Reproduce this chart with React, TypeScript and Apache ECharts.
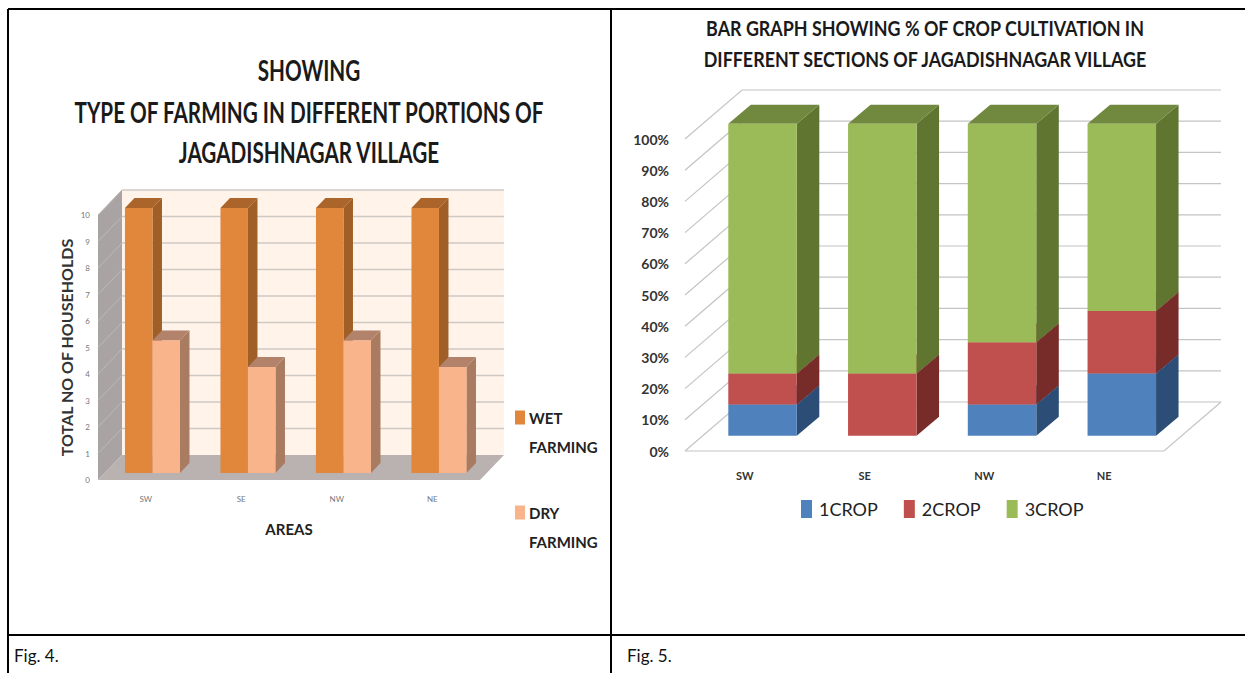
import React, { useEffect, useRef } from "react";
import * as echarts from "echarts";

const areas = ["SW", "SE", "NW", "NE"];
const wetFarming = [10, 10, 10, 10];
const dryFarming = [5, 4, 5, 4];
const householdTicks = [0, 1, 2, 3, 4, 5, 6, 7, 8, 9, 10];

const crop1 = [10, 0, 10, 20];
const crop2 = [10, 20, 20, 20];
const crop3 = [80, 80, 70, 60];
const percentTicks = [0, 10, 20, 30, 40, 50, 60, 70, 80, 90, 100];

const leftTitleLines = ["SHOWING", "TYPE OF FARMING IN DIFFERENT PORTIONS OF", "JAGADISHNAGAR VILLAGE"];
const rightTitleLines = ["BAR GRAPH SHOWING % OF CROP CULTIVATION IN", "DIFFERENT SECTIONS OF JAGADISHNAGAR VILLAGE"];

const FONT = "Lato";
const pts = (...p: number[][]) => ({ type: "polygon", shape: { points: p } });

function prism(x0: number, x1: number, yBase: number, yTop: number, dx: number, dy: number, front: string, side: string, top: string) {
  return [
    { ...pts([x1, yBase], [x1 + dx, yBase - dy], [x1 + dx, yTop - dy], [x1, yTop]), style: { fill: side } },
    { ...pts([x0, yTop], [x1, yTop], [x1 + dx, yTop - dy], [x0 + dx, yTop - dy]), style: { fill: top } },
    { type: "rect", shape: { x: x0, y: yTop, width: x1 - x0, height: yBase - yTop }, style: { fill: front } },
  ];
}

const LEFT_DEPTH = { dx: 24, dy: 25, t: 0.28, bdx: 9.5, bdy: 10 };
const RIGHT_DEPTH = { dx: 57, dy: 49, t: 0.31, bdx: 22.5, bdy: 19 };

function leftWalls(params: any, api: any) {
  const v = api.value(1);
  const { x, width } = params.coordSys;
  const y = api.coord([0, v])[1];
  const { dx, dy } = LEFT_DEPTH;
  const children: any[] = [];
  if (v === 0) {
    const yTop = api.coord([0, 10])[1];
    children.push({ type: "rect", shape: { x: x + dx, y: yTop - dy, width, height: y - yTop }, style: { fill: "#FFF3EA" } });
    children.push({ ...pts([x, y], [x + dx, y - dy], [x + dx, yTop - dy], [x, yTop]), style: { fill: "#A9A4A3" } });
    children.push({ ...pts([x, y], [x + width - 0, y], [x + width + dx, y - dy], [x + dx, y - dy]), style: { fill: "#B9B2B0" } });
  } else {
    children.push({ type: "line", shape: { x1: x + dx, y1: y - dy, x2: x + dx + width, y2: y - dy }, style: { stroke: "#CFC9C3", lineWidth: 1.6 } });
    children.push({ type: "line", shape: { x1: x, y1: y, x2: x + dx, y2: y - dy }, style: { stroke: "#BDB9B8", lineWidth: 1 } });
  }
  return { type: "group", children };
}

function leftBar(side: number, front: string, sideC: string, top: string) {
  return (_: any, api: any) => {
    const [cx, yTop] = api.coord([api.value(0), api.value(1)]);
    const yBase = api.coord([api.value(0), 0])[1];
    const w = api.size([1, 0])[0] * 0.288;
    const { dx, dy, t, bdx, bdy } = LEFT_DEPTH;
    const ox = cx + dx * t;
    const oy = dy * t;
    const x0 = side < 0 ? ox - w : ox;
    return { type: "group", children: prism(x0, x0 + w, yBase - oy, yTop - oy, bdx, bdy, front, sideC, top) };
  };
}

function rightWalls(params: any, api: any) {
  const v = api.value(1);
  const { x, width } = params.coordSys;
  const y = api.coord([0, v])[1];
  const { dx, dy } = RIGHT_DEPTH;
  const line = { stroke: "#C4C4C4", lineWidth: 1.2 };
  const children: any[] = [
    { type: "polyline", shape: { points: [[x, y], [x + dx, y - dy], [x + dx + width, y - dy]] }, style: { ...line, fill: null } },
  ];
  if (v === 0) {
    children.push({ type: "polyline", shape: { points: [[x, y], [x + width, y], [x + width + dx, y - dy]] }, style: { ...line, fill: null } });
  }
  return { type: "group", children };
}

function stackBar(front: string, sideC: string, top: string) {
  return (_: any, api: any) => {
    const cat = api.value(0);
    const lo = api.value(1);
    const hi = api.value(2);
    if (hi <= lo) return { type: "group", children: [] };
    const cx = api.coord([cat, 0])[0];
    const yLo = api.coord([cat, lo])[1];
    const yHi = api.coord([cat, hi])[1];
    const w = api.size([1, 0])[0] * 0.572;
    const { dx, dy, t, bdx, bdy } = RIGHT_DEPTH;
    const x0 = cx + dx * t - w / 2;
    const oy = dy * t;
    return { type: "group", children: prism(x0, x0 + w, yLo - oy, yHi - oy, bdx, bdy, front, sideC, top) };
  };
}

const stacked = (base: number[][], vals: number[]) =>
  vals.map((v, i) => {
    const lo = base.reduce((s, b) => s + b[i], 0);
    return [i, lo, lo + v];
  });

const tallSwatch = "path://M0 0H.1V.1H0Z M0 7.5H10V21.5H0Z M0 57.9H.1V58H0Z";

function legendFor(name: string, top: number) {
  return {
    data: [name],
    left: 515,
    top,
    orient: "vertical",
    selectedMode: false,
    icon: tallSwatch,
    itemWidth: 10,
    itemHeight: 58,
    itemGap: 0,
    padding: 0,
    formatter: (n: string) => n.replace(" ", "\n"),
    textStyle: { fontFamily: FONT, fontSize: 15, fontWeight: 700, lineHeight: 29, color: "#222", padding: [0, 0, 0, -1] },
  };
}

const titleText = (text: string, x: number, y: number, size: number, weight: number, scaleY: number) => ({
  type: "text",
  x,
  y,
  scaleY,
  style: { text, font: `${weight} ${size}px ${FONT}`, fill: "#1a1a1a", align: "center", verticalAlign: "middle" },
});

export default function App() {
  const ref = useRef<HTMLDivElement>(null);
  useEffect(() => {
    const chart = echarts.init(ref.current!, null, { renderer: "svg" });
    const borderLine = (x1: number, y1: number, x2: number, y2: number) => ({
      type: "line",
      shape: { x1, y1, x2, y2 },
      style: { stroke: "#000", lineWidth: 2 },
    });
    const walls = (data: number[], renderItem: any, idx: number) => ({
      type: "custom",
      coordinateSystem: "cartesian2d",
      xAxisIndex: idx,
      yAxisIndex: idx,
      silent: true,
      renderItem,
      encode: { x: 0, y: 1 },
      data: data.map((v) => [0, v]),
    });
    const bars3d = (name: string, color: string, renderItem: any, data: number[][], idx: number, y: number[]) => ({
      name,
      type: "custom",
      coordinateSystem: "cartesian2d",
      xAxisIndex: idx,
      yAxisIndex: idx,
      itemStyle: { color },
      renderItem,
      encode: { x: 0, y },
      data,
    });
    chart.setOption({
      animation: false,
      grid: [
        { left: 98, top: 215, width: 382, height: 265 },
        { left: 685, top: 139, width: 479, height: 312 },
      ],
      xAxis: [
        {
          gridIndex: 0,
          type: "category",
          data: areas,
          name: "AREAS",
          nameLocation: "middle",
          nameGap: 41,
          nameTextStyle: { fontFamily: FONT, fontSize: 15, fontWeight: 700, color: "#222" },
          axisLine: { show: false },
          axisTick: { show: false },
          axisLabel: { fontFamily: FONT, fontSize: 8, color: "#777", margin: 15 },
        },
        {
          gridIndex: 1,
          type: "category",
          data: areas,
          axisLine: { show: false },
          axisTick: { show: false },
          axisLabel: { fontFamily: FONT, fontSize: 11, fontWeight: 700, color: "#333", margin: 19 },
        },
      ],
      yAxis: [
        {
          gridIndex: 0,
          type: "value",
          min: 0,
          max: 10,
          interval: 1,
          name: "TOTAL NO OF HOUSEHOLDS",
          nameLocation: "middle",
          nameRotate: 90,
          nameGap: 24,
          nameTextStyle: { fontFamily: FONT, fontSize: 16, fontWeight: 700, color: "#333" },
          splitLine: { show: false },
          axisLine: { show: false },
          axisTick: { show: false },
          axisLabel: { fontFamily: FONT, fontSize: 8, color: "#777", margin: 8 },
        },
        {
          gridIndex: 1,
          type: "value",
          min: 0,
          max: 100,
          interval: 10,
          splitLine: { show: false },
          axisLine: { show: false },
          axisTick: { show: false },
          axisLabel: { formatter: "{value}%", fontFamily: FONT, fontSize: 14, fontWeight: 700, color: "#333", margin: 16 },
        },
      ],
      legend: [
        legendFor("WET FARMING", 403),
        legendFor("DRY FARMING", 498),
        {
          data: ["1CROP", "2CROP", "3CROP"],
          left: 801,
          top: 500,
          selectedMode: false,
          icon: "rect",
          itemWidth: 11,
          itemHeight: 18,
          itemGap: 26,
          padding: 0,
          textStyle: { fontFamily: FONT, fontSize: 18, color: "#222", padding: [0, 0, 0, 2] },
        },
      ],
      series: [
        walls(householdTicks, leftWalls, 0),
        bars3d("WET FARMING", "#E0873B", leftBar(-1, "#E0873B", "#9F5F27", "#AB6429"), wetFarming.map((v, i) => [i, v]), 0, [1]),
        bars3d("DRY FARMING", "#F9B48B", leftBar(1, "#F9B48B", "#A97B60", "#B3826A"), dryFarming.map((v, i) => [i, v]), 0, [1]),
        walls(percentTicks, rightWalls, 1),
        bars3d("1CROP", "#4F81BD", stackBar("#4F81BD", "#2C4D75", "#3A6494"), stacked([], crop1), 1, [1, 2]),
        bars3d("2CROP", "#C0504D", stackBar("#C0504D", "#772C2A", "#943C3A"), stacked([crop1], crop2), 1, [1, 2]),
        bars3d("3CROP", "#9BBB59", stackBar("#9BBB59", "#5F7530", "#71893F"), stacked([crop1, crop2], crop3), 1, [1, 2]),
      ],
      graphic: [
        borderLine(8, 9, 1245, 9),
        borderLine(8, 9, 8, 673),
        borderLine(611, 9, 611, 673),
        borderLine(8, 635, 1245, 635),
        titleText(leftTitleLines[0], 309, 70, 20.7, 700, 1.35),
        titleText(leftTitleLines[1], 309, 112, 20.7, 700, 1.35),
        titleText(leftTitleLines[2], 309, 152, 20.7, 700, 1.35),
        titleText(rightTitleLines[0], 925, 28, 17.9, 700, 1.15),
        titleText(rightTitleLines[1], 925, 59, 17.9, 700, 1.15),
        { type: "text", left: 14, top: 647, style: { text: "Fig. 4.", font: `17px ${FONT}`, fill: "#111" } },
        { type: "text", left: 627, top: 647, style: { text: "Fig. 5.", font: `17px ${FONT}`, fill: "#111" } },
      ],
    });
    return () => chart.dispose();
  }, []);
  return <div ref={ref} style={{ position: "absolute", left: 0, top: 0, width: 1245, height: 673 }} />;
}
